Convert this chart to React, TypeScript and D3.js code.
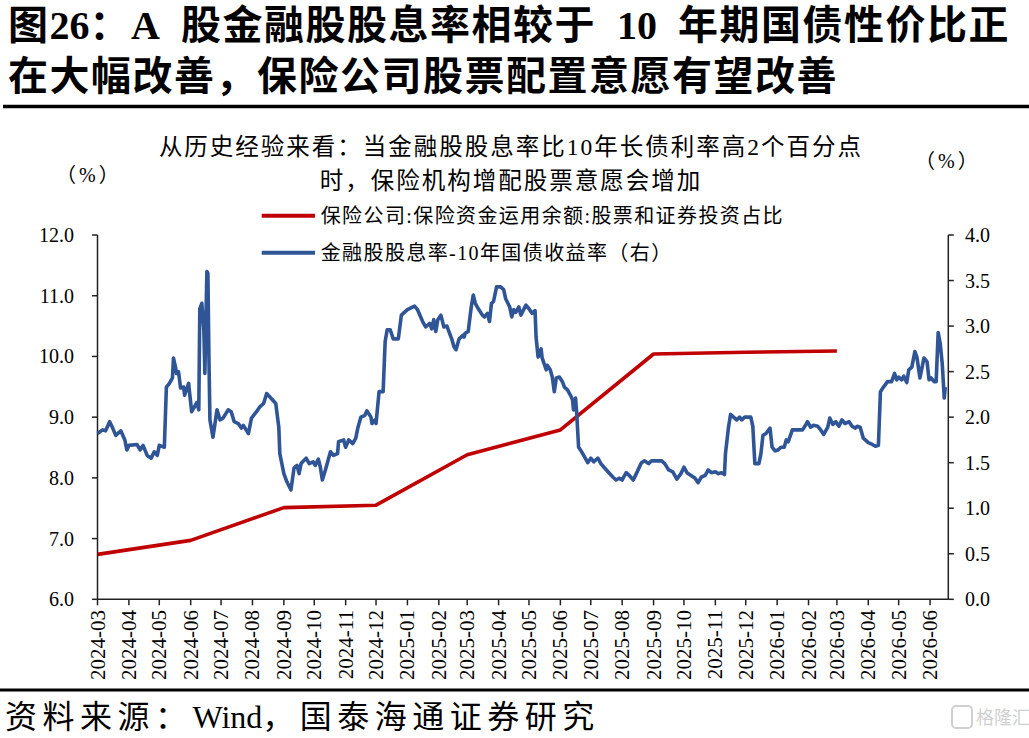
import React from "react";
import * as d3 from "d3";

const titleLines = [
  "图26：A 股金融股股息率相较于 10 年期国债性价比正",
  "在大幅改善，保险公司股票配置意愿有望改善",
];
const noteLines = [
  "从历史经验来看：当金融股股息率比10年长债利率高2个百分点",
  "时，保险机构增配股票意愿会增加",
];
const legendLabels = [
  "保险公司:保险资金运用余额:股票和证券投资占比",
  "金融股股息率-10年国债收益率（右）",
];
const sourceText = "资料来源：Wind，国泰海通证券研究";
const unitLabel = "（%）";

const monthTicks = [
  "2024-03", "2024-04", "2024-05", "2024-06", "2024-07", "2024-08", "2024-09",
  "2024-10", "2024-11", "2024-12", "2025-01", "2025-02", "2025-03", "2025-04",
  "2025-05", "2025-06", "2025-07", "2025-08", "2025-09", "2025-10", "2025-11",
  "2025-12", "2026-01", "2026-02", "2026-03", "2026-04", "2026-05", "2026-06",
];
const leftTicks = [6, 7, 8, 9, 10, 11, 12];
const rightTicks = [0, 0.5, 1, 1.5, 2, 2.5, 3, 3.5, 4];

// 保险公司股票和证券投资占比 (%), quarterly
const insuranceDates = [
  "2024-03-01", "2024-06-01", "2024-09-01", "2024-12-01", "2025-03-01",
  "2025-06-01", "2025-09-01", "2025-12-01", "2026-03-01",
];
const insuranceValues = [6.74, 6.97, 7.51, 7.55, 8.38, 8.79, 10.04, 10.07, 10.09];

// 金融股股息率-10年国债收益率 (%, right axis)
const spreadSeries: [string, number][] = [
  ["2024-03-01", 1.82], ["2024-03-06", 1.86], ["2024-03-09", 1.85], ["2024-03-13", 1.95],
  ["2024-03-16", 1.88], ["2024-03-19", 1.8], ["2024-03-24", 1.85], ["2024-03-28", 1.75],
  ["2024-03-30", 1.64], ["2024-04-01", 1.69], ["2024-04-09", 1.7], ["2024-04-12", 1.64],
  ["2024-04-15", 1.69], ["2024-04-19", 1.58], ["2024-04-23", 1.55], ["2024-04-26", 1.62],
  ["2024-04-29", 1.58], ["2024-05-01", 1.69], ["2024-05-06", 1.67], ["2024-05-08", 2.33],
  ["2024-05-11", 2.37], ["2024-05-14", 2.43], ["2024-05-15", 2.65], ["2024-05-17", 2.55],
  ["2024-05-18", 2.48], ["2024-05-20", 2.5], ["2024-05-22", 2.32], ["2024-05-25", 2.33],
  ["2024-05-26", 2.24], ["2024-05-30", 2.37], ["2024-05-31", 2.26], ["2024-06-02", 2.06],
  ["2024-06-04", 2.1], ["2024-06-07", 2.16], ["2024-06-09", 2.08], ["2024-06-10", 3.19],
  ["2024-06-12", 3.25], ["2024-06-14", 2.96], ["2024-06-15", 2.48], ["2024-06-17", 3.6],
  ["2024-06-18", 3.58], ["2024-06-19", 2.66], ["2024-06-20", 1.97], ["2024-06-23", 1.78],
  ["2024-06-25", 1.93], ["2024-06-27", 2.08], ["2024-06-30", 1.97], ["2024-07-03", 1.99],
  ["2024-07-08", 2.08], ["2024-07-11", 2.06], ["2024-07-14", 1.95], ["2024-07-18", 1.93],
  ["2024-07-21", 1.88], ["2024-07-23", 1.91], ["2024-07-28", 1.82], ["2024-07-31", 1.99],
  ["2024-08-05", 2.06], ["2024-08-08", 2.11], ["2024-08-12", 2.15], ["2024-08-15", 2.26],
  ["2024-08-20", 2.2], ["2024-08-24", 2.15], ["2024-08-27", 1.89], ["2024-08-28", 1.6],
  ["2024-09-01", 1.38], ["2024-09-04", 1.29], ["2024-09-08", 1.2], ["2024-09-11", 1.44],
  ["2024-09-14", 1.47], ["2024-09-16", 1.38], ["2024-09-18", 1.49], ["2024-09-23", 1.55],
  ["2024-09-26", 1.49], ["2024-09-30", 1.51], ["2024-10-02", 1.47], ["2024-10-05", 1.54],
  ["2024-10-07", 1.45], ["2024-10-09", 1.31], ["2024-10-12", 1.42], ["2024-10-17", 1.62],
  ["2024-10-20", 1.58], ["2024-10-24", 1.6], ["2024-10-25", 1.73], ["2024-10-30", 1.75],
  ["2024-11-01", 1.67], ["2024-11-04", 1.75], ["2024-11-08", 1.71], ["2024-11-11", 1.77],
  ["2024-11-13", 1.88], ["2024-11-16", 2.0], ["2024-11-20", 2.02], ["2024-11-22", 2.07],
  ["2024-11-26", 2.0], ["2024-11-27", 1.93], ["2024-11-30", 1.97], ["2024-12-01", 1.93],
  ["2024-12-04", 2.28], ["2024-12-08", 2.28], ["2024-12-10", 2.83], ["2024-12-12", 2.96],
  ["2024-12-15", 2.96], ["2024-12-18", 2.86], ["2024-12-23", 2.86], ["2024-12-26", 3.12],
  ["2025-01-01", 3.18], ["2025-01-08", 3.22], ["2025-01-11", 3.18], ["2025-01-16", 3.05],
  ["2025-01-19", 2.99], ["2025-01-23", 3.03], ["2025-01-25", 2.97], ["2025-01-27", 3.07],
  ["2025-01-29", 2.94], ["2025-01-31", 3.07], ["2025-02-03", 3.12], ["2025-02-06", 2.99],
  ["2025-02-09", 3.0], ["2025-02-11", 2.94], ["2025-02-14", 2.85], ["2025-02-16", 2.77],
  ["2025-02-18", 2.74], ["2025-02-21", 2.86], ["2025-02-25", 2.9], ["2025-02-26", 2.88],
  ["2025-02-27", 2.92], ["2025-03-02", 2.94], ["2025-03-05", 3.21], ["2025-03-07", 3.34],
  ["2025-03-09", 3.25], ["2025-03-12", 3.19], ["2025-03-16", 3.12], ["2025-03-18", 3.1],
  ["2025-03-21", 3.14], ["2025-03-23", 3.05], ["2025-03-25", 3.25], ["2025-03-27", 3.27],
  ["2025-03-30", 3.43], ["2025-04-03", 3.43], ["2025-04-06", 3.4], ["2025-04-08", 3.3],
  ["2025-04-12", 3.21], ["2025-04-14", 3.1], ["2025-04-16", 3.18], ["2025-04-18", 3.15],
  ["2025-04-21", 3.21], ["2025-04-23", 3.12], ["2025-04-28", 3.23], ["2025-05-01", 3.19],
  ["2025-05-04", 3.14], ["2025-05-07", 3.17], ["2025-05-08", 2.88], ["2025-05-10", 2.66],
  ["2025-05-13", 2.75], ["2025-05-14", 2.65], ["2025-05-18", 2.52], ["2025-05-19", 2.57],
  ["2025-05-22", 2.52], ["2025-05-24", 2.44], ["2025-05-26", 2.28], ["2025-05-28", 2.43],
  ["2025-05-31", 2.44], ["2025-06-03", 2.39], ["2025-06-05", 2.33], ["2025-06-08", 2.3],
  ["2025-06-11", 2.24], ["2025-06-13", 2.19], ["2025-06-14", 2.08], ["2025-06-16", 2.21],
  ["2025-06-17", 2.06], ["2025-06-19", 1.67], ["2025-06-22", 1.62], ["2025-06-25", 1.56],
  ["2025-06-28", 1.5], ["2025-07-01", 1.55], ["2025-07-04", 1.51], ["2025-07-08", 1.55],
  ["2025-07-11", 1.49], ["2025-07-14", 1.45], ["2025-07-18", 1.4], ["2025-07-23", 1.34],
  ["2025-07-26", 1.31], ["2025-07-29", 1.33], ["2025-08-01", 1.31], ["2025-08-05", 1.39],
  ["2025-08-08", 1.36], ["2025-08-12", 1.31], ["2025-08-15", 1.38], ["2025-08-20", 1.5],
  ["2025-08-23", 1.52], ["2025-08-27", 1.49], ["2025-08-30", 1.52], ["2025-09-04", 1.52],
  ["2025-09-09", 1.52], ["2025-09-12", 1.49], ["2025-09-16", 1.42], ["2025-09-20", 1.4],
  ["2025-09-24", 1.32], ["2025-09-28", 1.38], ["2025-10-01", 1.45], ["2025-10-04", 1.39],
  ["2025-10-08", 1.36], ["2025-10-12", 1.33], ["2025-10-15", 1.28], ["2025-10-18", 1.34],
  ["2025-10-22", 1.36], ["2025-10-25", 1.42], ["2025-10-28", 1.39], ["2025-11-01", 1.4],
  ["2025-11-04", 1.38], ["2025-11-07", 1.39], ["2025-11-10", 1.37], ["2025-11-11", 1.6],
  ["2025-11-14", 1.89], ["2025-11-16", 2.03], ["2025-11-19", 2.0], ["2025-11-22", 1.97],
  ["2025-11-25", 2.0], ["2025-11-27", 1.97], ["2025-11-30", 2.0], ["2025-12-06", 2.0],
  ["2025-12-08", 1.9], ["2025-12-10", 1.49], ["2025-12-14", 1.49], ["2025-12-16", 1.6],
  ["2025-12-18", 1.8], ["2025-12-21", 1.82], ["2025-12-25", 1.88], ["2025-12-27", 1.67],
  ["2025-12-30", 1.63], ["2026-01-02", 1.64], ["2026-01-05", 1.67], ["2026-01-08", 1.67],
  ["2026-01-10", 1.75], ["2026-01-12", 1.73], ["2026-01-16", 1.86], ["2026-01-21", 1.86],
  ["2026-01-26", 1.86], ["2026-01-29", 1.91], ["2026-01-31", 1.95], ["2026-02-03", 1.89],
  ["2026-02-06", 1.91], ["2026-02-10", 1.9], ["2026-02-13", 1.86], ["2026-02-16", 1.81],
  ["2026-02-20", 1.89], ["2026-02-22", 1.99], ["2026-02-25", 1.92], ["2026-02-28", 1.95],
  ["2026-03-01", 1.93], ["2026-03-03", 1.9], ["2026-03-06", 1.97], ["2026-03-09", 1.93],
  ["2026-03-13", 1.95], ["2026-03-16", 1.9], ["2026-03-19", 1.88], ["2026-03-21", 1.9],
  ["2026-03-24", 1.89], ["2026-03-27", 1.77], ["2026-03-29", 1.75], ["2026-04-01", 1.72],
  ["2026-04-05", 1.7], ["2026-04-08", 1.68], ["2026-04-11", 1.69], ["2026-04-13", 2.28],
  ["2026-04-16", 2.33], ["2026-04-20", 2.39], ["2026-04-24", 2.39], ["2026-04-27", 2.48],
  ["2026-04-29", 2.41], ["2026-05-01", 2.44], ["2026-05-04", 2.41], ["2026-05-06", 2.45],
  ["2026-05-09", 2.38], ["2026-05-11", 2.52], ["2026-05-14", 2.55], ["2026-05-17", 2.72],
  ["2026-05-19", 2.66], ["2026-05-22", 2.43], ["2026-05-24", 2.54], ["2026-05-26", 2.65],
  ["2026-05-29", 2.61], ["2026-05-31", 2.41], ["2026-06-02", 2.43], ["2026-06-05", 2.39],
  ["2026-06-07", 2.39], ["2026-06-09", 2.93], ["2026-06-11", 2.81], ["2026-06-13", 2.59],
  ["2026-06-15", 2.21], ["2026-06-16", 2.33],
];

const RED = "#C00000";
const BLUE = "#2F5597";
const SERIF = "'Liberation Serif', 'Times New Roman', 'Noto Sans CJK SC', serif";

// Render text with different letter spacing for CJK, Latin and space runs
function Runs({ text, cjk, latin, space }: { text: string; cjk: number; latin: number; space: number }) {
  const parts = text.split(/(\s+|[A-Za-z0-9.\-]+)/).filter((p) => p.length > 0);
  return (
    <>
      {parts.map((p, i) => {
        const ls = /^\s+$/.test(p) ? space : /^[A-Za-z0-9.\-]+$/.test(p) ? latin : cjk;
        return (
          <tspan key={i} style={{ letterSpacing: `${ls}px`, whiteSpace: "pre" }}>
            {p}
          </tspan>
        );
      })}
    </>
  );
}

export default function App() {
  const parse = d3.timeParse("%Y-%m-%d");
  const parseMonth = d3.timeParse("%Y-%m");
  const x = d3
    .scaleTime()
    .domain([parse("2024-03-01")!, parse("2026-06-19")!])
    .range([97.5, 948.3]);
  const yL = d3.scaleLinear().domain([6, 12]).range([599.3, 235]);
  const yR = d3.scaleLinear().domain([0, 4]).range([599.3, 235]);

  const redPts = insuranceDates.map((d, i) => [parse(d)!, insuranceValues[i]] as [Date, number]);
  const bluePts = spreadSeries.map(([d, v]) => [parse(d)!, v] as [Date, number]);

  const redLine = d3
    .line<[Date, number]>()
    .x((d) => x(d[0]))
    .y((d) => yL(d[1]));
  const blueLine = d3
    .line<[Date, number]>()
    .x((d) => x(d[0]))
    .y((d) => yR(d[1]));

  const x0 = x.range()[0];
  const x1 = x.range()[1];
  const yBottom = yL.range()[0];
  const yTop = yL.range()[1];

  return (
    <svg
      width={1029}
      height={738}
      viewBox="0 0 1029 738"
      style={{ position: "absolute", left: 0, top: 0, background: "#fff" }}
      fontFamily={SERIF}
    >
      <rect x={0} y={0} width={1029} height={738} fill="#fff" />
      {/* Title */}
      <text x={8} y={39} fontSize={40} fontWeight="bold" fill="#000">
        <Runs text={titleLines[0]} cjk={1.5} latin={0} space={11} />
      </text>
      <text x={8} y={90} fontSize={40} fontWeight="bold" fill="#000">
        <Runs text={titleLines[1]} cjk={1.5} latin={0} space={11} />
      </text>
      <line x1={3} x2={1029} y1={106.5} y2={106.5} stroke="#000" strokeWidth={3.5} />

      {/* Note */}
      <text x={511} y={155} fontSize={23.5} textAnchor="middle" fill="#000" style={{ letterSpacing: "2px" }}>
        {noteLines[0]}
      </text>
      <text x={511} y={189} fontSize={23.5} textAnchor="middle" fill="#000" style={{ letterSpacing: "2px" }}>
        {noteLines[1]}
      </text>

      {/* Units */}
      <text x={56} y={182} fontSize={20} fill="#000" style={{ letterSpacing: "3px" }}>{unitLabel}</text>
      <text x={915} y={168} fontSize={20} fill="#000" style={{ letterSpacing: "3px" }}>{unitLabel}</text>

      {/* Legend */}
      <line x1={261.7} x2={315} y1={215.7} y2={215.7} stroke={RED} strokeWidth={4} />
      <text x={320.7} y={223} fontSize={20} fill="#000" style={{ letterSpacing: "1.4px" }}>
        {legendLabels[0]}
      </text>
      <line x1={261.7} x2={315} y1={252.7} y2={252.7} stroke={BLUE} strokeWidth={4} />
      <text x={320.7} y={260} fontSize={20} fill="#000" style={{ letterSpacing: "1.4px" }}>
        {legendLabels[1]}
      </text>

      {/* Axes */}
      <line x1={x0} x2={x0} y1={yTop} y2={yBottom} stroke="#222" strokeWidth={1.5} />
      <line x1={x1} x2={x1} y1={yTop} y2={yBottom} stroke="#222" strokeWidth={1.5} />
      <line x1={x0} x2={x1} y1={yBottom} y2={yBottom} stroke="#222" strokeWidth={1.5} />

      {leftTicks.map((t) => (
        <g key={"l" + t}>
          <line x1={x0 - 5.5} x2={x0} y1={yL(t)} y2={yL(t)} stroke="#222" strokeWidth={1.5} />
          <text x={74} y={yL(t)} fontSize={20} textAnchor="end" dominantBaseline="central" fill="#000">
            {d3.format(".1f")(t)}
          </text>
        </g>
      ))}
      {rightTicks.map((t) => (
        <g key={"r" + t}>
          <line x1={x1} x2={x1 + 5.5} y1={yR(t)} y2={yR(t)} stroke="#222" strokeWidth={1.5} />
          <text x={965} y={yR(t)} fontSize={20} textAnchor="start" dominantBaseline="central" fill="#000">
            {d3.format(".1f")(t)}
          </text>
        </g>
      ))}
      {monthTicks.map((m) => {
        const xm = x(parseMonth(m)!);
        return (
          <g key={m}>
            <line x1={xm} x2={xm} y1={yBottom} y2={yBottom + 6} stroke="#222" strokeWidth={1.5} />
            <text
              transform={`translate(${xm},610) rotate(-90)`}
              fontSize={21}
              textAnchor="end"
              dominantBaseline="central"
              fill="#000"
            >
              {m}
            </text>
          </g>
        );
      })}

      {/* Series */}
      <path d={redLine(redPts)!} fill="none" stroke={RED} strokeWidth={3.6} strokeLinejoin="round" />
      <path d={blueLine(bluePts)!} fill="none" stroke={BLUE} strokeWidth={3.6} strokeLinejoin="round" />

      {/* Footer */}
      <line x1={0} x2={1029} y1={690} y2={690} stroke="#000" strokeWidth={3} />
      <text x={5} y={728} fontSize={32} fill="#000">
        <Runs text={sourceText} cjk={5.5} latin={0} space={0} />
      </text>
      <g opacity={0.45}>
        <rect x={952} y={706} width={20} height={22} rx={4} fill="none" stroke="#999" strokeWidth={2} />
        <text x={976} y={724} fontSize={18} fill="#999" fontFamily="'Noto Sans CJK SC', sans-serif">
          格隆汇
        </text>
      </g>
    </svg>
  );
}
